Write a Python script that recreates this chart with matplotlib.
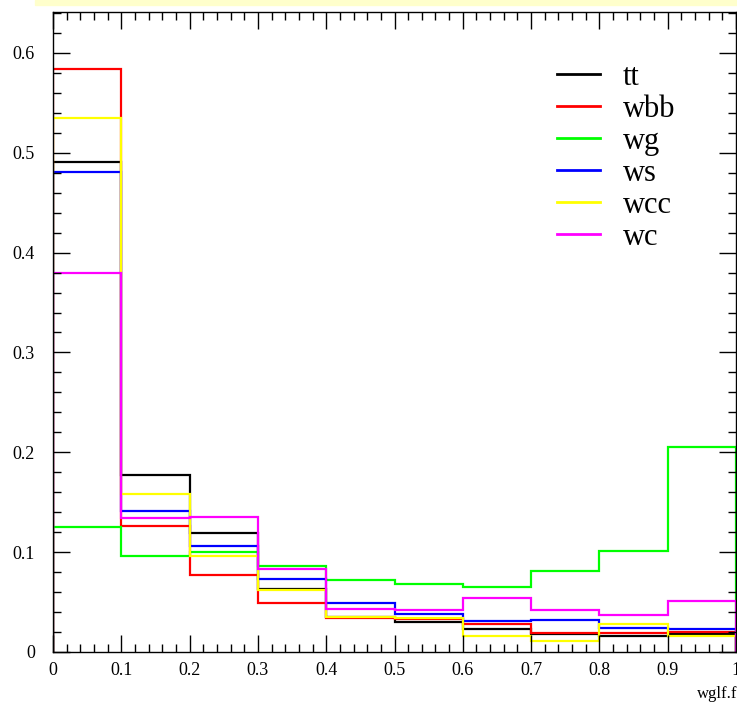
import numpy as np
import matplotlib
matplotlib.use("Agg")
import matplotlib.pyplot as plt
from matplotlib.patches import Rectangle
from matplotlib.ticker import MultipleLocator

edges = [0.0, 0.1, 0.2, 0.3, 0.4, 0.5, 0.6, 0.7, 0.8, 0.9, 1.0]

names = ["tt", "wbb", "wg", "ws", "wcc", "wc"]
colors = ["#000000", "#ff0000", "#00ff00", "#0000ff", "#ffff00", "#ff00ff"]

tt = [0.491, 0.177, 0.119, 0.0635, 0.035, 0.0304, 0.0234, 0.0177, 0.016, 0.018]
wbb = [0.584, 0.1266, 0.077, 0.0488, 0.0344, 0.033, 0.028, 0.0194, 0.0194, 0.0204]
wg = [0.1256, 0.0959, 0.1005, 0.0858, 0.0721, 0.0678, 0.0655, 0.0808, 0.1012, 0.2054]
ws = [0.481, 0.1416, 0.1065, 0.0735, 0.0488, 0.0378, 0.0314, 0.0317, 0.024, 0.023]
wcc = [0.535, 0.158, 0.0965, 0.0618, 0.035, 0.0341, 0.016, 0.0114, 0.0277, 0.0164]
wc = [0.380, 0.134, 0.135, 0.0828, 0.0434, 0.0418, 0.0538, 0.042, 0.0367, 0.0508]

series = [tt, wbb, wg, ws, wcc, wc]

plt.rcParams['font.family'] = ['Liberation Serif', 'DejaVu Serif']

fig = plt.figure(figsize=(7.37, 7.03), dpi=100)
# yellowish title strip at the top, mostly cut off
fig.patches.append(Rectangle((35 / 737, 1 - 5 / 703), 1 - 35 / 737, 5 / 703,
                             transform=fig.transFigure, color='#ffffcc', zorder=0))
ax = fig.add_axes([53 / 737, 51 / 703, 683 / 737, 640 / 703])

for name, vals, col in zip(names, series, colors):
    ax.stairs(vals, edges, baseline=0, color=col, linewidth=1.6, label=name)

ax.set_xlim(0, 1)
ax.set_ylim(0, 0.641)
ax.xaxis.set_major_locator(MultipleLocator(0.1))
ax.xaxis.set_minor_locator(MultipleLocator(0.02))
ax.yaxis.set_major_locator(MultipleLocator(0.1))
ax.yaxis.set_minor_locator(MultipleLocator(0.02))
ax.xaxis.set_major_formatter(lambda v, p: f"{v:g}")
ax.yaxis.set_major_formatter(lambda v, p: f"{v:g}")
ax.tick_params(which='both', direction='in', top=True, right=True, width=1.0)
ax.tick_params(which='major', length=12, labelsize=13)
ax.tick_params(which='minor', length=6)
ax.tick_params(axis='x', pad=7)
ax.tick_params(axis='y', pad=13)
for s in ax.spines.values():
    s.set_linewidth(1.0)

handles = [plt.Line2D([], [], color=c, linewidth=2) for c in colors]
ax.legend(handles, names, loc='upper left', bbox_to_anchor=(0.72, 0.94),
          frameon=False, fontsize=22, handlelength=1.4, handletextpad=0.75,
          labelspacing=0.1, borderaxespad=0)

fig.text(1.0, 1 - 694 / 703, "wglf.f", ha='right', va='center', fontsize=12)

fig.savefig("out.png", dpi=100)
